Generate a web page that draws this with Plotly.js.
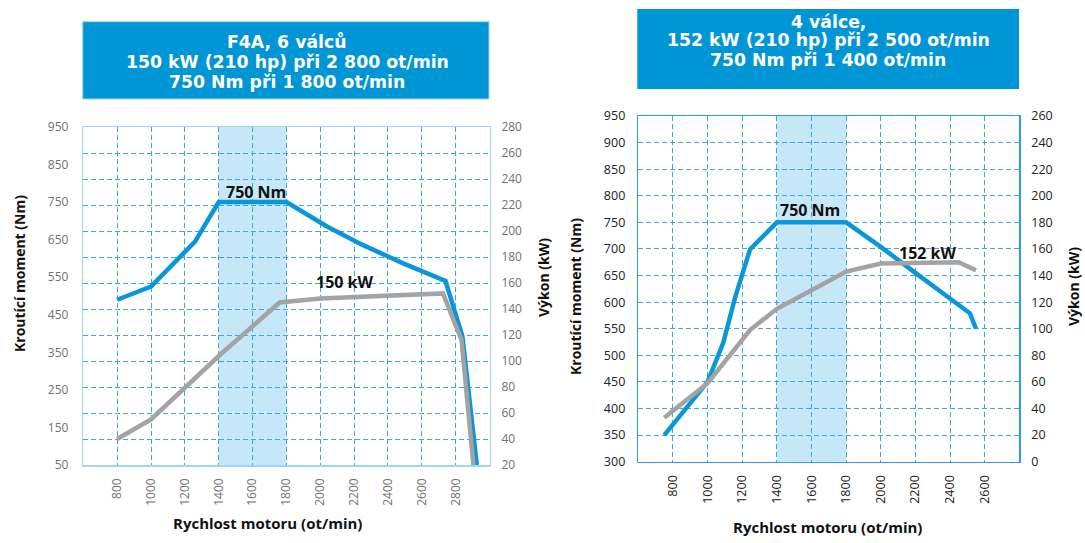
<!DOCTYPE html>
<html>
<head>
<meta charset="utf-8">
<script src="https://cdn.plot.ly/plotly-3.0.1.min.js"></script>
<style>html,body{margin:0;padding:0;background:#fff;}#chart{width:1085px;height:543px;}</style>
</head>
<body>
<div id="chart"></div>
<script>
// ---- Left chart (F4A, 6 válců) ----
const leftTorqueRpm = [800, 1000, 1260, 1400, 1800, 2040, 2250, 2490, 2740, 2840, 2925];
const leftTorque    = [490, 525, 645, 750, 750, 685, 636, 587, 540, 392, 50];
const leftPowerRpm  = [800, 1000, 1410, 1760, 2000, 2470, 2725, 2835, 2905];
const leftPower     = [40, 55, 105, 145, 148, 151, 152, 116, 20];
const leftXTicks    = [800, 1000, 1200, 1400, 1600, 1800, 2000, 2200, 2400, 2600, 2800];
const leftYTicks    = [50, 150, 250, 350, 450, 550, 650, 750, 850, 950];
const leftY2Ticks   = [20, 40, 60, 80, 100, 120, 140, 160, 180, 200, 220, 240, 260, 280];
const leftHeader    = ["F4A, 6 válců", "150 kW (210 hp) při 2 800 ot/min", "750 Nm při 1 800 ot/min"];

// ---- Right chart (4 válce) ----
const rightTorqueRpm = [750, 900, 1000, 1090, 1160, 1245, 1400, 1800, 2000, 2200, 2400, 2515, 2550];
const rightTorque    = [350, 410, 450, 523, 610, 699, 750, 750, 704, 655, 607, 579, 550];
const rightPowerRpm  = [750, 1000, 1245, 1400, 1600, 1800, 2000, 2450, 2550];
const rightPower     = [33, 59, 99, 115, 129, 143, 149, 150, 144];
const rightXTicks    = [800, 1000, 1200, 1400, 1600, 1800, 2000, 2200, 2400, 2600];
const rightYTicks    = [300, 350, 400, 450, 500, 550, 600, 650, 700, 750, 800, 850, 900, 950];
const rightY2Ticks   = [0, 20, 40, 60, 80, 100, 120, 140, 160, 180, 200, 220, 240, 260];
const rightHeader    = ["4 válce,", "152 kW (210 hp) při 2 500 ot/min", "750 Nm při 1 400 ot/min"];

const W = 1085, H = 543;
const px = v => v / W;
const py = v => 1 - v / H;

const BLUE = '#0a97d9';
const GRAY = '#a3a3a3';
const GRID = '#3aa9e2';
const FONT = '"Open Sans", sans-serif';

const traces = [
  {x: leftPowerRpm, y: leftPower, xaxis: 'x', yaxis: 'y2', mode: 'lines',
   line: {color: GRAY, width: 4.5}, hoverinfo: 'skip'},
  {x: leftTorqueRpm, y: leftTorque, xaxis: 'x', yaxis: 'y', mode: 'lines',
   line: {color: BLUE, width: 4.5}, hoverinfo: 'skip'},
  {x: rightPowerRpm, y: rightPower, xaxis: 'x2', yaxis: 'y4', mode: 'lines',
   line: {color: GRAY, width: 4.5}, hoverinfo: 'skip'},
  {x: rightTorqueRpm, y: rightTorque, xaxis: 'x2', yaxis: 'y3', mode: 'lines',
   line: {color: BLUE, width: 4.5}, hoverinfo: 'skip'}
];

const tickFontL = {family: FONT, size: 12, color: '#707070'};
const tickFontR = {family: FONT, size: 12.5, color: '#222'};

const xBase = (domain, range, ticks, font, lc) => ({
  domain, range, tickmode: 'array', tickvals: ticks, ticktext: ticks.map(String),
  tickangle: -90, tickfont: font, showgrid: true, gridcolor: GRID, griddash: '5px,3px',
  gridwidth: 1, zeroline: false, showline: true, mirror: true, linecolor: lc, linewidth: 1.5,
  ticks: '', ticklabelstandoff: 7, fixedrange: true, automargin: false
});

const titleFont = {family: FONT, size: 14, color: '#111', weight: 'bold'};
const xTitleFont = {family: FONT, size: 15, color: '#111', weight: 'bold'};
const markFont = {family: FONT, size: 16, color: '#111', weight: 'bold'};
const headFont = {family: '"DejaVu Sans", sans-serif', size: 17.3, color: '#fff', weight: 'bold'};

function ann(text, x, y, font, extra) {
  return Object.assign({text, xref: 'paper', yref: 'paper', x: px(x), y: py(y), showarrow: false,
    xanchor: 'center', yanchor: 'middle', font}, extra || {});
}

const headerAnns = [];
const leftLineY = [41.7, 61.7, 81.7];
const rightLineY = [21.7, 40.5, 60];
leftHeader.forEach((t, i) => headerAnns.push(ann(t, 287, leftLineY[i], headFont)));
rightHeader.forEach((t, i) => headerAnns.push(ann(t, 828, rightLineY[i], headFont)));

const layout = {
  width: W, height: H,
  margin: {l: 0, r: 0, t: 0, b: 0},
  paper_bgcolor: '#fff', plot_bgcolor: '#fff',
  showlegend: false,
  xaxis: Object.assign(xBase([px(83.3), px(489.5)], [600, 3000], leftXTicks, tickFontL, '#9fd7f3'), {anchor: 'y'}),
  yaxis: {domain: [py(465), py(127)], range: [50, 950], tickmode: 'array', tickvals: leftYTicks,
    tickfont: tickFontL, showgrid: false, zeroline: false, showline: true, mirror: false,
    linecolor: '#9fd7f3', linewidth: 1.5, ticks: '', ticklabelstandoff: 11, anchor: 'x', automargin: false, fixedrange: true},
  yaxis2: {domain: [py(465), py(127)], range: [20, 280], tickmode: 'array', tickvals: leftY2Ticks,
    tickfont: tickFontL, overlaying: 'y', side: 'right', anchor: 'x', showgrid: true, gridcolor: GRID,
    griddash: '5px,3px', zeroline: false, showline: true, linecolor: '#9fd7f3', linewidth: 1.5,
    ticks: '', ticklabelstandoff: 8, automargin: false, fixedrange: true},
  xaxis2: Object.assign(xBase([px(638.3), px(1019.3)], [600, 2800], rightXTicks, tickFontR, '#2a9fdc'), {anchor: 'y3'}),
  yaxis3: {domain: [py(461.7), py(116)], range: [300, 950], tickmode: 'array', tickvals: rightYTicks,
    tickfont: tickFontR, showgrid: true, gridcolor: GRID, griddash: '5px,3px', zeroline: false,
    showline: true, linecolor: '#2a9fdc', linewidth: 1.5, ticks: '', ticklabelstandoff: 9,
    anchor: 'x2', automargin: false, fixedrange: true},
  yaxis4: {domain: [py(461.7), py(116)], range: [0, 260], tickmode: 'array', tickvals: rightY2Ticks,
    tickfont: tickFontR, overlaying: 'y3', side: 'right', anchor: 'x2', showgrid: false, zeroline: false,
    showline: true, linecolor: '#2a9fdc', linewidth: 1.5, ticks: '', ticklabelstandoff: 8,
    automargin: false, fixedrange: true},
  shapes: [
    {type: 'rect', xref: 'x', yref: 'y domain', x0: 1400, x1: 1800, y0: 0, y1: 1,
     fillcolor: '#c6e7f7', line: {width: 0}, layer: 'below'},
    {type: 'rect', xref: 'x2', yref: 'y3 domain', x0: 1400, x1: 1800, y0: 0, y1: 1,
     fillcolor: '#c6e7f7', line: {width: 0}, layer: 'below'},
    {type: 'rect', xref: 'paper', yref: 'paper', x0: px(82.7), x1: px(489), y0: py(99), y1: py(21.7),
     fillcolor: '#0096d6', line: {color: '#9fd7f3', width: 1}},
    {type: 'rect', xref: 'paper', yref: 'paper', x0: px(637.3), x1: px(1019), y0: py(89), y1: py(9),
     fillcolor: '#0096d6', line: {width: 0}}
  ],
  annotations: headerAnns.concat([
    ann('Kroutící moment (Nm)', 19, 274, titleFont, {textangle: -90}),
    ann('Výkon (kW)', 543, 278, titleFont, {textangle: -90}),
    ann('Rychlost motoru (ot/min)', 267, 523, xTitleFont),
    ann('Kroutící moment (Nm)', 575, 297, titleFont, {textangle: -90}),
    ann('Výkon (kW)', 1073, 287, titleFont, {textangle: -90}),
    ann('Rychlost motoru (ot/min)', 827, 527, xTitleFont),
    {text: '750 Nm', xref: 'x', yref: 'y', x: 1618, y: 777, showarrow: false, xanchor: 'center', yanchor: 'middle', font: markFont},
    {text: '150 kW', xref: 'x', yref: 'y2', x: 2147, y: 161, showarrow: false, xanchor: 'center', yanchor: 'middle', font: markFont},
    {text: '750 Nm', xref: 'x2', yref: 'y3', x: 1591, y: 773, showarrow: false, xanchor: 'center', yanchor: 'middle', font: markFont},
    {text: '152 kW', xref: 'x2', yref: 'y4', x: 2271, y: 157, showarrow: false, xanchor: 'center', yanchor: 'middle', font: markFont}
  ])
};

Plotly.newPlot('chart', traces, layout, {staticPlot: true, displayModeBar: false});
</script>
</body>
</html>
